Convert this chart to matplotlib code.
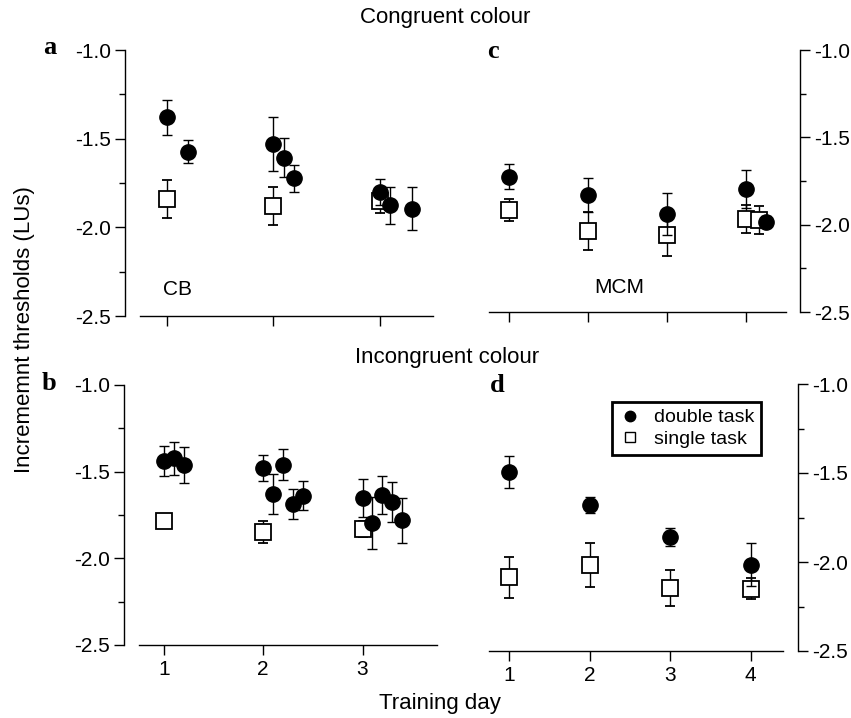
import matplotlib
matplotlib.use("Agg")
import matplotlib.pyplot as plt
from matplotlib.lines import Line2D
from matplotlib.ticker import FixedLocator, FormatStrFormatter

plt.rcParams['font.family'] = ['Liberation Sans', 'DejaVu Sans']
plt.rcParams['axes.unicode_minus'] = False

# ---------------- data ----------------
# Panel a: congruent colour, CB
a_dbl_x = [1, 1.2, 2, 2.1, 2.2, 3, 3.1, 3.3]
a_dbl_y = [-1.38, -1.575, -1.53, -1.607, -1.724, -1.80, -1.876, -1.895]
a_dbl_e = [0.10, 0.065, 0.15, 0.11, 0.075, 0.075, 0.105, 0.12]
a_sgl_x = [1, 2, 3]
a_sgl_y = [-1.84, -1.88, -1.854]
a_sgl_e = [0.105, 0.105, 0.065]

# Panel c: congruent colour, MCM
c_dbl_x = [1, 2, 3, 4, 4.25]
c_dbl_y = [-1.726, -1.83, -1.94, -1.795, -1.983]
c_dbl_e = [0.072, 0.10, 0.12, 0.11, 0.03]
c_sgl_x = [1, 2, 3, 4, 4.16]
c_sgl_y = [-1.916, -2.037, -2.06, -1.97, -1.975]
c_sgl_e = [0.062, 0.107, 0.12, 0.08, 0.08]

# Panel b: incongruent colour, CB
b_dbl_x = [1, 1.1, 1.2, 2, 2.1, 2.2, 2.3, 2.4, 3, 3.1, 3.2, 3.3, 3.4]
b_dbl_y = [-1.437, -1.423, -1.46, -1.477, -1.63, -1.46, -1.686, -1.638,
           -1.65, -1.796, -1.634, -1.677, -1.78]
b_dbl_e = [0.087, 0.096, 0.105, 0.075, 0.115, 0.09, 0.087, 0.086,
           0.11, 0.15, 0.11, 0.115, 0.13]
b_sgl_x = [1, 2, 3]
b_sgl_y = [-1.786, -1.85, -1.83]
b_sgl_e = [0.02, 0.063, 0.045]

# Panel d: incongruent colour, MCM
d_dbl_x = [1, 2, 3, 4]
d_dbl_y = [-1.494, -1.678, -1.86, -2.016]
d_dbl_e = [0.09, 0.045, 0.05, 0.12]
d_sgl_x = [1, 2, 3, 4]
d_sgl_y = [-2.087, -2.016, -2.147, -2.15]
d_sgl_e = [0.115, 0.125, 0.10, 0.06]

y_major = [-1.0, -1.5, -2.0, -2.5]
y_minor = [-1.25, -1.75, -2.25]
days3 = [1, 2, 3]
days4 = [1, 2, 3, 4]

# ---------------- figure ----------------
W, H = 851, 718
fig = plt.figure(figsize=(W / 100, H / 100), dpi=100)


def px_axes(left, right, top, bottom):
    return fig.add_axes([left / W, 1 - bottom / H, (right - left) / W, (bottom - top) / H])


def style(ax, xlim, xticks, side, offset_px, xlabels=True):
    ax.set_xlim(*xlim)
    ax.set_ylim(-2.5, -1.0)
    ax.spines['top'].set_visible(False)
    other = 'right' if side == 'left' else 'left'
    ax.spines[other].set_visible(False)
    ax.spines[side].set_position(('outward', offset_px * 0.72))
    for s in ('left', 'right', 'bottom'):
        ax.spines[s].set_linewidth(1.0)
    ax.yaxis.set_ticks_position(side)
    ax.yaxis.set_major_locator(FixedLocator(y_major))
    ax.yaxis.set_minor_locator(FixedLocator(y_minor))
    ax.yaxis.set_major_formatter(FormatStrFormatter('%.1f'))
    ax.xaxis.set_major_locator(FixedLocator(xticks))
    ax.xaxis.set_major_formatter(FormatStrFormatter('%d'))
    ax.tick_params(axis='y', which='major', direction='out', length=7, width=1,
                   labelsize=15, pad=3)
    ax.tick_params(axis='y', which='minor', direction='out', length=4, width=1)
    ax.tick_params(axis='x', which='major', direction='out', length=7, width=1,
                   labelsize=15, pad=4, labelbottom=xlabels)
    ax.set_facecolor('none')


def draw(ax, sx, sy, se, dx, dy, de):
    ax.errorbar(sx, sy, yerr=se, fmt='s', ms=11, mfc='white', mec='black', mew=1.3,
                ecolor='black', elinewidth=1, capsize=3.5, capthick=1, clip_on=False,
                zorder=3)
    ax.errorbar(dx, dy, yerr=de, fmt='o', ms=11, mfc='black', mec='black',
                ecolor='black', elinewidth=1, capsize=3.5, capthick=1, clip_on=False,
                zorder=4)


ax_a = px_axes(140, 433, 50, 316)
style(ax_a, (0.75, 3.5), days3, 'left', 15, xlabels=False)
draw(ax_a, a_sgl_x, a_sgl_y, a_sgl_e, a_dbl_x, a_dbl_y, a_dbl_e)
ax_a.text(1.1, -2.35, 'CB', fontsize=15, ha='center', va='center')

ax_c = px_axes(489, 786, 50, 312)
style(ax_c, (0.75, 4.5), days4, 'right', 14, xlabels=False)
draw(ax_c, c_sgl_x, c_sgl_y, c_sgl_e, c_dbl_x, c_dbl_y, c_dbl_e)
ax_c.text(2.4, -2.36, 'MCM', fontsize=15, ha='center', va='center')

ax_b = px_axes(139, 437, 385, 645)
style(ax_b, (0.75, 3.75), days3, 'left', 15)
draw(ax_b, b_sgl_x, b_sgl_y, b_sgl_e, b_dbl_x, b_dbl_y, b_dbl_e)

ax_d = px_axes(489, 783, 384, 651)
style(ax_d, (0.75, 4.4), days4, 'right', 15)
draw(ax_d, d_sgl_x, d_sgl_y, d_sgl_e, d_dbl_x, d_dbl_y, d_dbl_e)

handles = [
    Line2D([], [], ls='none', marker='o', ms=7.5, mfc='black', mec='black'),
    Line2D([], [], ls='none', marker='s', ms=7, mfc='white', mec='black', mew=1),
]
leg = ax_d.legend(handles, ['double task', 'single task'], loc='upper left',
                  bbox_to_anchor=(612 / W, 1 - 402 / H), bbox_transform=fig.transFigure,
                  fontsize=14, frameon=True, fancybox=False, framealpha=1,
                  edgecolor='black', borderpad=0.35, handletextpad=0.6,
                  labelspacing=0.2, handlelength=1.2, borderaxespad=0)
leg.get_frame().set_linewidth(2)

# ---------------- texts ----------------
fig.text(445 / W, 1 - 17 / H, 'Congruent colour', fontsize=16, ha='center', va='center')
fig.text(447 / W, 1 - 357 / H, 'Incongruent colour', fontsize=16, ha='center', va='center')
fig.text(440 / W, 1 - 704 / H, 'Training day', fontsize=16, ha='center', va='center')
fig.text(25 / W, 1 - 330 / H, 'Incrememnt thresholds (LUs)', fontsize=16,
         rotation=90, ha='center', va='center')

letter_kw = dict(fontsize=19, fontweight='bold', ha='center', va='center',
                 family=['Liberation Serif', 'DejaVu Serif'])
fig.text(50 / W, 1 - 48 / H, 'a', **letter_kw)
fig.text(493 / W, 1 - 52 / H, 'c', **letter_kw)
fig.text(49 / W, 1 - 383 / H, 'b', **letter_kw)
fig.text(497 / W, 1 - 386 / H, 'd', **letter_kw)

fig.savefig('out.png', dpi=100)
